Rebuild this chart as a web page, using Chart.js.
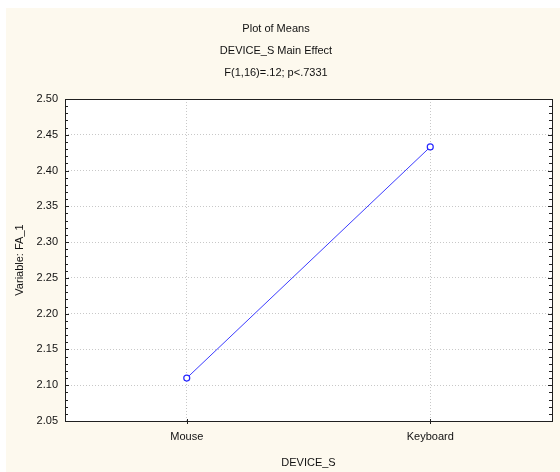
<!DOCTYPE html>
<html>
<head>
<meta charset="utf-8">
<script src="https://cdn.jsdelivr.net/npm/chart.js@4"></script>
<style>
  html, body { margin: 0; padding: 0; background: #ffffff; }
  #wrap { width: 560px; height: 472px; position: relative; }
</style>
</head>
<body>
<div id="wrap"><canvas id="myChart" width="560" height="472"></canvas></div>
<script>
// donnees du graphique
const categories = ['Mouse', 'Keyboard'];
const means = [2.11, 2.433];
const yTicks = [2.05, 2.10, 2.15, 2.20, 2.25, 2.30, 2.35, 2.40, 2.45, 2.50];
const titleLines = ['Plot of Means', 'DEVICE_S Main Effect', 'F(1,16)=.12; p<.7331'];

const police = "'Liberation Sans', Arial, sans-serif";

// fond creme + cadre + petites graduations
const cadre = {
  id: 'cadre',
  beforeDraw(chart) {
    const ctx = chart.ctx;
    ctx.save();
    ctx.fillStyle = '#fdf9ee';
    ctx.fillRect(6, 8, chart.width - 6, chart.height - 8);
    const a = chart.chartArea;
    ctx.fillStyle = '#ffffff';
    ctx.fillRect(a.left, a.top, a.right - a.left, a.bottom - a.top);
    ctx.restore();
  },
  afterDraw(chart) {
    const ctx = chart.ctx;
    const a = chart.chartArea;
    const y = chart.scales.y;
    const x = chart.scales.x;
    ctx.save();
    ctx.strokeStyle = '#202020';
    ctx.lineWidth = 1;
    ctx.strokeRect(Math.round(a.left) + 0.5, Math.round(a.top) + 0.5,
      Math.round(a.right - a.left), Math.round(a.bottom - a.top));
    ctx.beginPath();
    for (let i = 0; i <= 45; i++) {
      const v = yTicks[0] + i * 0.01;
      const py = Math.round(y.getPixelForValue(v)) + 0.5;
      const len = (i % 5 === 0) ? 4 : 3;
      ctx.moveTo(a.left, py); ctx.lineTo(a.left + len, py);
      ctx.moveTo(a.right, py); ctx.lineTo(a.right - len, py);
    }
    categories.forEach((c, i) => {
      const px = Math.round(x.getPixelForValue(i)) + 0.5;
      ctx.moveTo(px, a.bottom - 2); ctx.lineTo(px, a.bottom + 3);
    });
    ctx.stroke();
    ctx.restore();
  }
};

const data = {
  labels: categories,
  datasets: [{
    data: means,
    borderColor: 'rgb(60,60,255)',
    borderWidth: 1,
    pointRadius: 3,
    pointBorderWidth: 1.2,
    pointBackgroundColor: '#ffffff',
    pointBorderColor: 'rgb(40,40,255)',
    tension: 0
  }]
};

const config = {
  type: 'line',
  data: data,
  options: {
    responsive: false,
    animation: false,
    layout: { padding: { left: 0, right: 8, top: 0, bottom: 0 } },
    plugins: {
      legend: { display: false },
      tooltip: { enabled: false },
      title: {
        display: true,
        text: titleLines,
        color: '#111',
        font: { family: police, size: 11, weight: 'normal', lineHeight: 2 },
        padding: { top: 18, bottom: 15 }
      }
    },
    scales: {
      x: {
        offset: true,
        afterFit(s) { s.height = 51; },
        grid: { color: '#c8c8c8', drawTicks: false },
        border: { display: false, dash: [1, 2] },
        ticks: { color: '#111', font: { family: police, size: 11 }, padding: 9 },
        title: {
          display: true,
          text: 'DEVICE_S',
          color: '#111',
          font: { family: police, size: 11 },
          padding: { top: 0, bottom: 2 }
        }
      },
      y: {
        min: 2.05,
        max: 2.5,
        afterFit(s) { s.width = 65; },
        afterBuildTicks(s) { s.ticks = yTicks.map(v => ({ value: v })); },
        grid: { color: '#c8c8c8', drawTicks: false },
        border: { display: false, dash: [1, 2] },
        ticks: {
          color: '#111',
          font: { family: police, size: 11 },
          padding: 7,
          callback: v => Number(v).toFixed(2)
        },
        title: {
          display: true,
          text: 'Variable: FA_1',
          color: '#111',
          font: { family: police, size: 11 },
          padding: { top: 13, bottom: 0 }
        }
      }
    }
  },
  plugins: [cadre]
};

var myChart = new Chart(document.getElementById('myChart'), config);
</script>
</body>
</html>
